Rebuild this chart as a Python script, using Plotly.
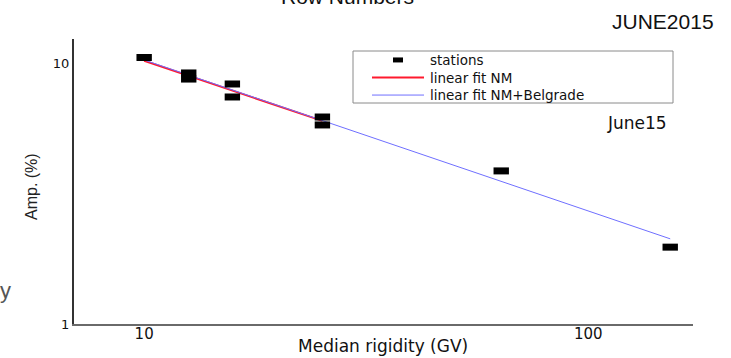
import plotly.graph_objects as go

# ---- data ----
rigidity = [10.0, 12.6, 12.6, 15.8, 15.8, 25.2, 25.2, 63.7, 153.0]
amplitude = [10.5, 9.16, 8.68, 8.31, 7.41, 6.21, 5.79, 3.86, 1.97]

fit_nm_x = [10.0, 25.2]
fit_nm_y = [10.2, 6.0]
fit_all_x = [10.0, 153.0]
fit_all_y = [10.27, 2.12]

x_ticks = [10, 100]
x_ticktext = ["10", "100"]
y_ticks = [1, 10]
y_ticktext = ["1", "10"]

legend_names = ["stations", "linear fit NM", "linear fit NM+Belgrade"]

# ---- layout geometry (pixels) ----
W, H = 731, 358
L, R, T, B = 74, 38, 39, 34
PW, PH = W - L - R, H - T - B


def px(x):
    return (x - L) / PW


def py(y):
    return (H - B - y) / PH


RED = "#ff1a2e"
BLUE = "#6f6fff"

fig = go.Figure()
fig.add_trace(go.Scatter(x=fit_nm_x, y=fit_nm_y, mode="lines",
                         line=dict(color=RED, width=2), showlegend=False))
fig.add_trace(go.Scatter(x=fit_all_x, y=fit_all_y, mode="lines",
                         line=dict(color=BLUE, width=1), showlegend=False))
fig.add_trace(go.Scatter(x=rigidity, y=amplitude, mode="markers",
                         marker=dict(symbol="line-ew", size=11,
                                     line=dict(color="black", width=7)),
                         showlegend=False))

LEG_FS = 13.5
row_gap = 1.3 * LEG_FS
rows = [77.5 - row_gap, 77.5, 77.5 + row_gap]

shapes = [
    dict(type="rect", xref="paper", yref="paper", x0=px(353), x1=px(673),
         y0=py(103), y1=py(51), line=dict(color="#8a8a8a", width=1),
         fillcolor="rgba(0,0,0,0)", layer="above"),
    dict(type="rect", xref="paper", yref="paper", x0=px(393), x1=px(403),
         y0=py(rows[0] + 2.5), y1=py(rows[0] - 2.5), line=dict(width=0),
         fillcolor="black"),
    dict(type="line", xref="paper", yref="paper", x0=px(372), x1=px(424),
         y0=py(rows[1]), y1=py(rows[1]), line=dict(color=RED, width=2)),
    dict(type="line", xref="paper", yref="paper", x0=px(372), x1=px(424),
         y0=py(rows[2]), y1=py(rows[2]), line=dict(color=BLUE, width=1)),
]

annotations = [
    dict(text="<br>".join(legend_names), xref="paper", yref="paper",
         x=px(429), y=py(77.5), xanchor="left", yanchor="middle", align="left",
         showarrow=False, borderpad=0,
         font=dict(family="DejaVu Sans", size=LEG_FS, color="#111")),
    dict(text="June15", xref="paper", yref="paper", x=px(669), y=py(123),
         xanchor="right", yanchor="middle", showarrow=False,
         font=dict(family="DejaVu Sans", size=17, color="#111")),
    dict(text="JUNE2015", xref="paper", yref="paper", x=px(716), y=py(21),
         xanchor="right", yanchor="middle", showarrow=False,
         font=dict(family="Liberation Sans", size=21, color="#111")),
    dict(text="Row Numbers", xref="paper", yref="paper", x=px(347), y=py(-3),
         xanchor="center", yanchor="middle", showarrow=False,
         font=dict(family="Liberation Sans", size=21, color="#111")),
    dict(text="Median rigidity (GV)", xref="paper", yref="paper", x=px(383),
         y=py(346), xanchor="center", yanchor="middle", showarrow=False,
         borderpad=0,
         font=dict(family="DejaVu Sans", size=17, color="#111")),
    dict(text="Amp. (%)", xref="paper", yref="paper", x=px(31), y=py(187),
         xanchor="center", yanchor="middle", showarrow=False, textangle=-90,
         font=dict(family="Liberation Sans", size=16, color="#222")),
    dict(text="y", xref="paper", yref="paper", x=px(13), y=py(290),
         xanchor="right", yanchor="middle", showarrow=False,
         font=dict(family="Liberation Sans", size=22, color="#555")),
]

fig.update_layout(
    width=W, height=H,
    margin=dict(l=L, r=R, t=T, b=B, pad=0),
    paper_bgcolor="white", plot_bgcolor="white",
    shapes=shapes, annotations=annotations, showlegend=False,
    xaxis=dict(type="log", range=[0.842, 2.236], tickvals=x_ticks,
               ticktext=x_ticktext, ticks="", showgrid=False, zeroline=False,
               showline=True, linecolor="#6a6a6a", linewidth=2,
               ticklabelstandoff=-5,
               tickfont=dict(family="DejaVu Sans", size=15, color="#111")),
    yaxis=dict(type="log", range=[0, 1.092], tickvals=y_ticks,
               ticktext=y_ticktext, ticks="", showgrid=False, zeroline=False,
               showline=True, linecolor="#333333", linewidth=2,
               tickfont=dict(family="DejaVu Sans", size=13, color="#111")),
)

fig.write_html("out.html")
